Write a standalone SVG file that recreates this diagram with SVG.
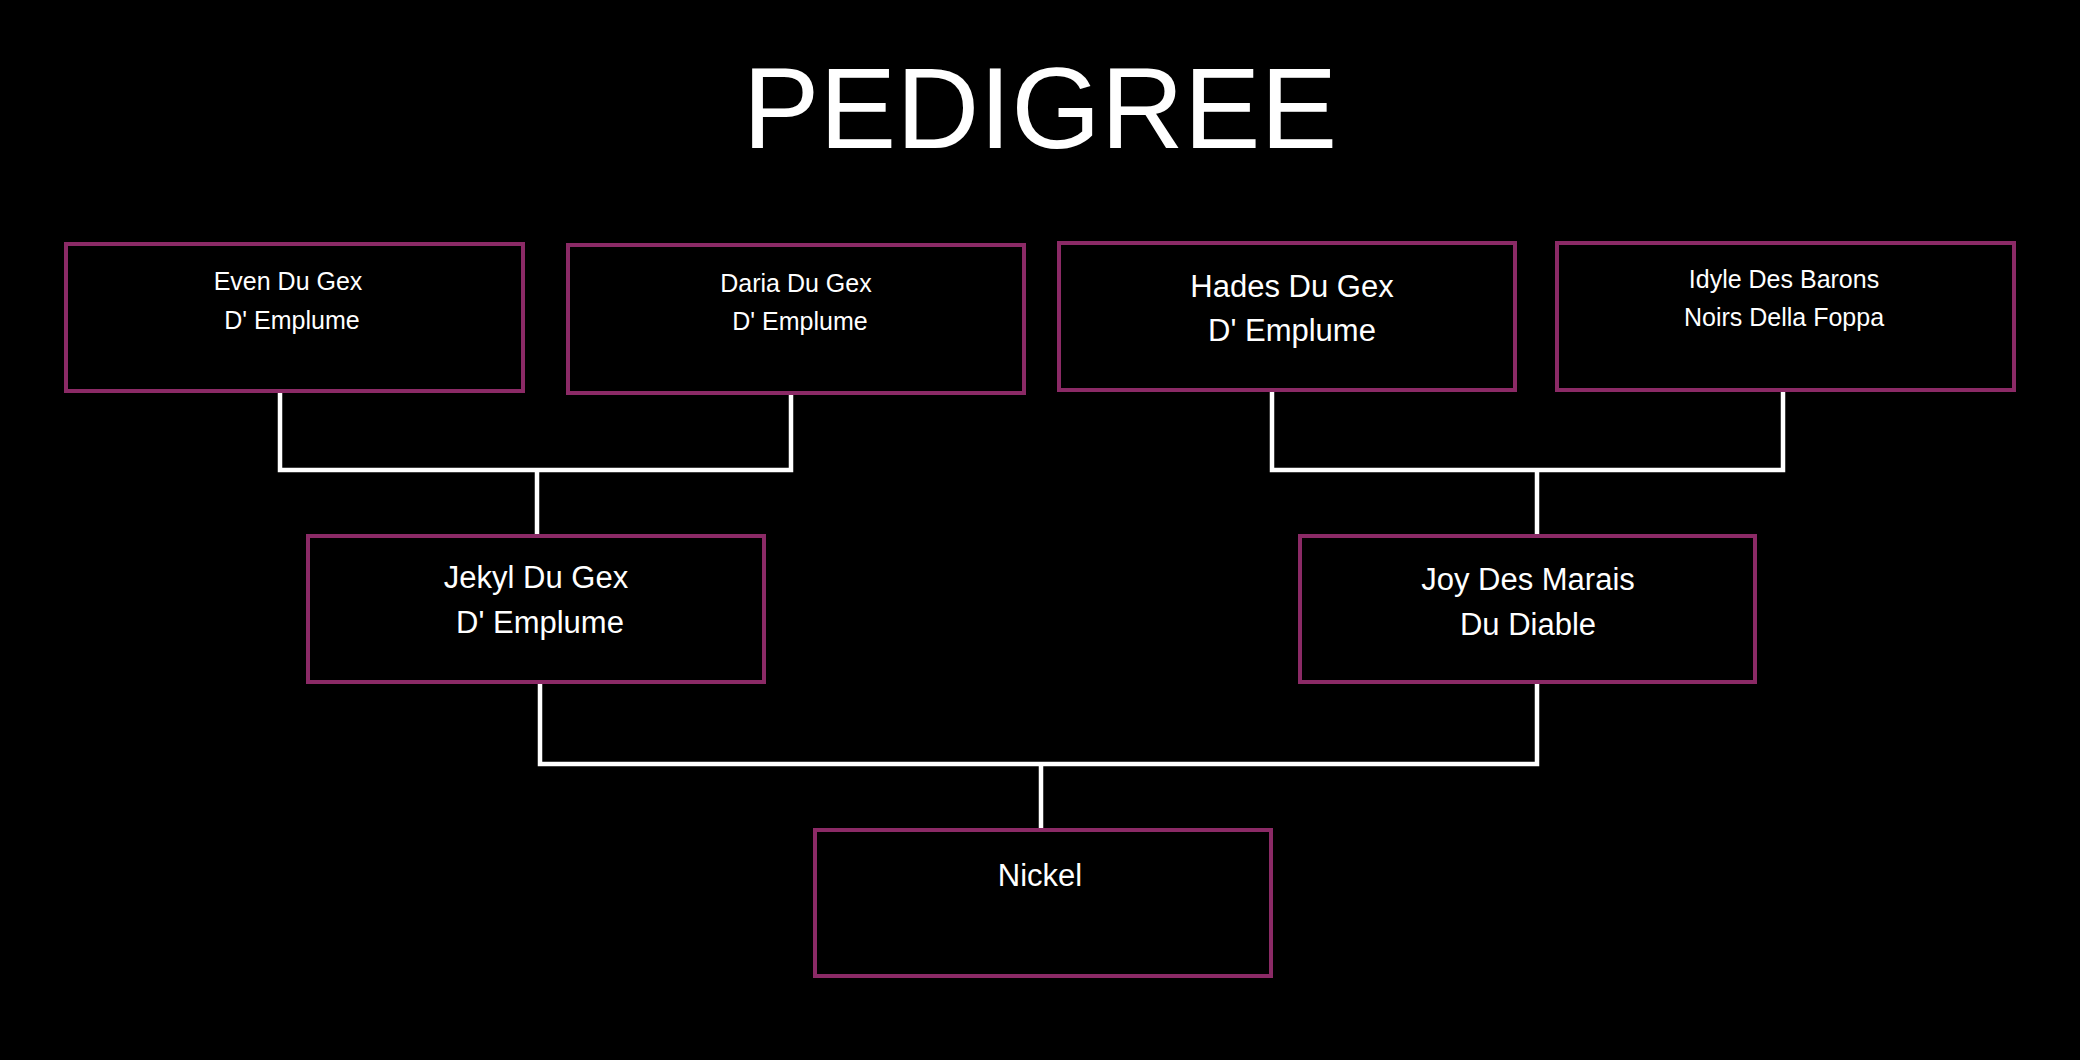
<svg xmlns="http://www.w3.org/2000/svg" width="2080" height="1060" viewBox="0 0 2080 1060">
<style>
.b{fill:#000;stroke:#8B2A66;stroke-width:4}
.t{font-family:"Liberation Sans",Arial,sans-serif;fill:#fff;text-anchor:middle}
.s{font-size:25px}.m{font-size:31px}
.c{stroke:#fff;stroke-width:4.5;fill:none}
</style>
<rect width="2080" height="1060" fill="#000"/>
<text class="t" x="1040" y="148" font-size="115">PEDIGREE</text>
<g id="connectors">
<path class="c" d="M280 391V470H791V393M537 470V536"/>
<path class="c" d="M1272 390V470H1783V390M1537 470V536"/>
<path class="c" d="M540 682V764H1537V682M1041 764V830"/>
</g>
<g id="even"><rect class="b" x="66" y="244" width="457" height="147"/><text class="t s" x="288" y="290">Even Du Gex</text><text class="t s" x="292" y="329">D' Emplume</text></g>
<g id="daria"><rect class="b" x="568" y="245" width="456" height="148"/><text class="t s" x="796" y="292">Daria Du Gex</text><text class="t s" x="800" y="330">D' Emplume</text></g>
<g id="hades"><rect class="b" x="1059" y="243" width="456" height="147"/><text class="t m" x="1292" y="297">Hades Du Gex</text><text class="t m" x="1292" y="341">D' Emplume</text></g>
<g id="idyle"><rect class="b" x="1557" y="243" width="457" height="147"/><text class="t s" x="1784" y="288">Idyle Des Barons</text><text class="t s" x="1784" y="326">Noirs Della Foppa</text></g>
<g id="jekyl"><rect class="b" x="308" y="536" width="456" height="146"/><text class="t m" x="536" y="588">Jekyl Du Gex</text><text class="t m" x="540" y="633">D' Emplume</text></g>
<g id="joy"><rect class="b" x="1300" y="536" width="455" height="146"/><text class="t m" x="1528" y="590">Joy Des Marais</text><text class="t m" x="1528" y="635">Du Diable</text></g>
<g id="nickel"><rect class="b" x="815" y="830" width="456" height="146"/><text class="t m" x="1040" y="886">Nickel</text></g>
</svg>
